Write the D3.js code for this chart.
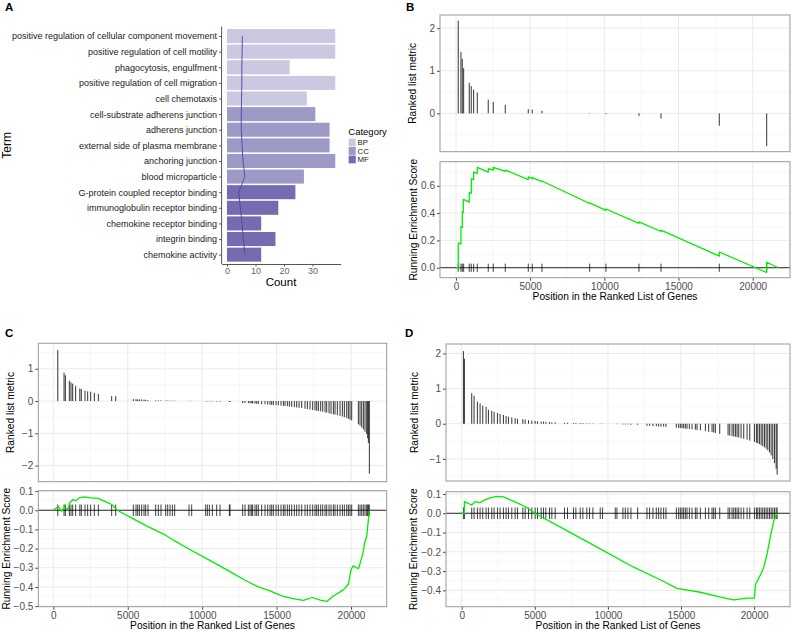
<!DOCTYPE html>
<html><head><meta charset="utf-8">
<script src="https://cdn.jsdelivr.net/npm/d3@7"></script>
<style>body{margin:0;background:#fff} text{font-family:"Liberation Sans",Arial,Helvetica,sans-serif}</style>
</head><body><svg id="c" width="796" height="631"></svg>
<script>
// ---------------- Panel A data ----------------
const termLabels = ["positive regulation of cellular component movement","positive regulation of cell motility","phagocytosis, engulfment","positive regulation of cell migration","cell chemotaxis","cell-substrate adherens junction","adherens junction","external side of plasma membrane","anchoring junction","blood microparticle","G-protein coupled receptor binding","immunoglobulin receptor binding","chemokine receptor binding","integrin binding","chemokine activity"];
const termCategory = ["BP","BP","BP","BP","BP","CC","CC","CC","CC","CC","MF","MF","MF","MF","MF"];
const termCount = [38,38,22,38,28,31,36,36,38,27,24,18,12,17,12];
const termLineValue = [5.4,5.3,5.2,5.2,5.1,5.0,5.0,5.3,5.6,6.3,4.1,4.7,5.3,5.7,6.3];
const categories = ["BP","CC","MF"];
const countTicks = [0,10,20,30];

// ---------------- Panel B data ----------------
const bHitPos = [155,337,425,519,897,1031,1193,1436,2177,2514,3323,4874,5143,5797,9012,10111,12336,13819,17749,20944];
const bMetric = [2.18,1.44,1.28,1.06,0.72,0.64,0.56,0.49,0.32,0.27,0.20,0.10,0.09,0.06,0.01,-0.02,-0.06,-0.12,-0.29,-0.77];
const bEsPos = [0,157,157,337,337,427,427,494,494,899,899,1034,1034,1191,1191,1438,1438,2180,2180,2517,2517,3326,3326,4876,4876,5146,5146,5797,5797,9010,9010,10112,10112,12336,12336,13819,13819,17751,17751,20942,20942,21730];
const bEsVal = [0,0,0.18,0.175,0.30,0.295,0.41,0.405,0.50,0.48,0.55,0.545,0.65,0.645,0.70,0.69,0.735,0.70,0.725,0.715,0.735,0.705,0.715,0.645,0.665,0.652,0.66,0.63,0.635,0.47,0.475,0.42,0.43,0.325,0.335,0.265,0.275,0.085,0.115,-0.035,0.04,0];

// ---------------- Panel C data ----------------
const cHitPos = [300,720,810,1075,1187,1299,1500,1780,1880,2130,2307,2509,2755,3024,3920,4189,5376,5555,5667,5779,5936,6093,6205,6362,6877,7056,7235,7549,7683,7840,7997,8154,9117,9296,10237,10349,10483,10685,10976,11200,11827,11872,12723,12880,13104,13216,13328,13395,13552,13664,13776,14000,14224,14403,14560,14672,14784,14963,15120,15299,15456,15568,15725,15859,16016,16195,16352,16509,16688,16912,17069,17248,17427,17584,17696,17808,17965,18099,18256,18368,18525,18659,18816,18928,19085,19264,19421,19555,19712,19824,19936,20048,20496,20608,20720,20832,20944,21056,21123,21168,21235];
const cMetric = [1.58,0.88,0.80,0.63,0.58,0.54,0.47,0.39,0.37,0.32,0.30,0.29,0.25,0.22,0.15,0.15,0.06,0.06,0.05,0.05,0.05,0.04,0.04,0.03,0.02,0.02,0.02,0.015,0.015,0.012,0.01,0.01,0.005,0.005,-0.01,-0.01,-0.01,-0.015,-0.015,-0.02,-0.03,-0.03,-0.06,-0.06,-0.065,-0.07,-0.07,-0.075,-0.08,-0.085,-0.09,-0.1,-0.1,-0.11,-0.11,-0.12,-0.12,-0.13,-0.13,-0.14,-0.15,-0.15,-0.16,-0.17,-0.18,-0.19,-0.2,-0.21,-0.22,-0.24,-0.25,-0.26,-0.28,-0.29,-0.30,-0.31,-0.32,-0.33,-0.35,-0.36,-0.38,-0.40,-0.41,-0.42,-0.44,-0.46,-0.48,-0.5,-0.52,-0.55,-0.58,-0.6,-0.72,-0.76,-0.82,-0.88,-0.95,-1.02,-1.15,-1.3,-2.25];
const cEsPos = [0,336,560,739,1000,1075,1300,1523,1747,2061,2509,3024,3500,3920,4300,5376,6362,7549,8154,9296,10483,11872,12880,13776,14560,15299,16016,16800,17400,18000,18400,18816,19488,19824,20003,20150,20496,20600,20787,20950,21056,21123,21168,21235];
const cEsVal = [0,0.02,-0.005,0.015,0.005,0.035,0.055,0.05,0.065,0.07,0.065,0.062,0.045,0.03,0.0,-0.045,-0.085,-0.13,-0.16,-0.21,-0.26,-0.32,-0.365,-0.40,-0.42,-0.445,-0.46,-0.47,-0.455,-0.47,-0.475,-0.447,-0.415,-0.386,-0.31,-0.29,-0.305,-0.28,-0.23,-0.16,-0.136,-0.085,-0.05,0];

// ---------------- Panel D data ----------------
const dHitPos = [114,183,685,845,1073,1256,1438,1667,1826,2055,2215,2443,2625,2854,3036,3196,3425,3653,3813,4178,4338,4566,4794,5023,5182,5434,5593,5753,6004,6164,6392,7032,7237,7648,7808,8105,8287,8561,8744,8972,9474,9634,10502,10616,11027,11187,11369,11575,12031,12671,12853,13082,13310,13470,13629,13812,13972,14680,14840,14954,15068,15182,15296,15410,15570,15753,15981,16095,16323,16666,16894,17123,17237,17351,17648,18218,18332,18492,18606,18721,18835,18949,19109,19291,19520,19702,20022,20159,20250,20364,20479,20593,20707,20821,20935,21050,21164,21278,21392,21506,21575];
const dMetric = [2.07,1.85,0.87,0.80,0.63,0.58,0.51,0.48,0.40,0.37,0.34,0.31,0.28,0.25,0.22,0.20,0.18,0.16,0.14,0.13,0.12,0.10,0.09,0.08,0.07,0.06,0.06,0.05,0.05,0.04,0.04,0.03,0.03,0.02,0.02,0.02,0.02,0.01,0.01,0.01,0.005,0.005,0.0,-0.01,-0.02,-0.02,-0.02,-0.03,-0.03,-0.06,-0.06,-0.07,-0.07,-0.08,-0.08,-0.08,-0.09,-0.11,-0.12,-0.12,-0.13,-0.13,-0.14,-0.14,-0.15,-0.16,-0.17,-0.18,-0.19,-0.21,-0.23,-0.24,-0.25,-0.26,-0.29,-0.33,-0.34,-0.35,-0.36,-0.37,-0.38,-0.39,-0.41,-0.43,-0.45,-0.48,-0.52,-0.54,-0.56,-0.58,-0.61,-0.64,-0.67,-0.71,-0.76,-0.82,-0.9,-1.0,-1.12,-1.28,-1.45];
const dEsPos = [0,183,183,685,913,1256,1598,1941,2397,2854,3310,3767,4452,5000,7191,9474,11757,13584,14726,16323,17694,18606,19520,20022,20091,20433,20662,20890,21118,21346,21575];
const dEsVal = [0,0,0.06,0.043,0.06,0.055,0.07,0.08,0.088,0.085,0.07,0.055,0.03,0.0,-0.09,-0.185,-0.28,-0.345,-0.39,-0.41,-0.435,-0.45,-0.44,-0.44,-0.37,-0.32,-0.28,-0.21,-0.12,-0.04,0];

const posTicks = [0,5000,10000,15000,20000];
const posMinor = [2500,7500,12500,17500,22500];

// ---------------- styles ----------------
const catColor = {BP:"#cbc9e2", CC:"#9e9ac8", MF:"#756bb1"};
const FONT = '"Liberation Sans",Arial,Helvetica,sans-serif';
const svg = d3.select("#c");
svg.append("rect").attr("width",796).attr("height",631).attr("fill","#fff");

function label(txt, x, y){
  svg.append("text").attr("x",x).attr("y",y).attr("font-size",11.5).attr("font-weight","bold").attr("fill","#000").text(txt);
}

// ---------------- Panel A ----------------
(function(){
  const g = svg.append("g");
  const x = d3.scaleLinear().domain([-1.9, 39.9]).range([221.6, 340.7]);
  const y = d3.scalePoint().domain(termLabels).range([26.7, 264]).padding(0.6);
  const bh = y.step()*0.9;
  g.selectAll("rect.bar").data(termLabels).join("rect")
    .attr("x", x(0)).attr("y", d=>y(d)-bh/2)
    .attr("width",(d,i)=>x(termCount[i])-x(0)).attr("height",bh)
    .attr("fill",(d,i)=>catColor[termCategory[i]]);
  const line = d3.line().x((d,i)=>x(termLineValue[i])).y(d=>y(d));
  g.append("path").datum(termLabels).attr("d",line).attr("fill","none").attr("stroke","#4f4399").attr("stroke-width",0.9);
  const ya = g.append("g").attr("transform",`translate(${x.range()[0]},0)`)
    .call(d3.axisLeft(y).tickSize(2.5).tickSizeOuter(0).tickPadding(2));
  ya.select(".domain").attr("stroke","#555").attr("d",`M0,26.7V264`);
  ya.selectAll(".tick line").attr("stroke","#555");
  ya.selectAll(".tick text").attr("font-size",9.0).attr("font-family",FONT).attr("fill","#1a1a1a");
  const xa = g.append("g").attr("transform",`translate(0,264)`)
    .call(d3.axisBottom(x).tickValues(countTicks).tickSize(2.5).tickSizeOuter(0).tickPadding(1.5));
  xa.select(".domain").attr("stroke","#555");
  xa.selectAll(".tick line").attr("stroke","#555");
  xa.selectAll(".tick text").attr("font-size",9).attr("font-family",FONT).attr("fill","#666");
  g.append("text").attr("x",281).attr("y",286).attr("text-anchor","middle").attr("font-size",11.5).text("Count");
  g.append("text").attr("transform","translate(7,145.3) rotate(-90)").attr("dy","0.35em").attr("text-anchor","middle").attr("font-size",12).text("Term");
  // legend
  g.append("text").attr("x",348.3).attr("y",135.3).attr("font-size",9.5).text("Category");
  categories.forEach((c,i)=>{
    const ky = 138.2 + i*8.5;
    g.append("rect").attr("x",348.3).attr("y",ky).attr("width",7.7).attr("height",8.5).attr("fill",catColor[c]).attr("stroke","#fff").attr("stroke-width",0.5);
    g.append("text").attr("x",357.5).attr("y",ky+4.25).attr("dy","0.36em").attr("font-size",7.8).attr("fill","#222").text(c);
  });
  label("A",5,11);
})();

// ---------------- GSEA panels ----------------
function gsea(cfg){
  const g = svg.append("g");
  const x = d3.scaleLinear().domain(cfg.xDom).range([cfg.x0, cfg.x1]);
  const yT = d3.scaleLinear().domain(cfg.tDom).range([cfg.tBot, cfg.tTop]);
  const yB = d3.scaleLinear().domain(cfg.bDom).range([cfg.bBot, cfg.bTop]);
  const fmt0 = d3.format("d"), fmt1 = d3.format(".1f");
  function panel(y, top, bot, major, minor, fmt, titleX, title, showX){
    const pg = g.append("g");
    const inX = v => v>=cfg.xDom[0] && v<=cfg.xDom[1];
    const inY = v => v>=y.domain()[0] && v<=y.domain()[1];
    pg.selectAll("line.mx").data(posMinor.filter(inX)).join("line").attr("x1",d=>x(d)).attr("x2",d=>x(d)).attr("y1",top).attr("y2",bot).attr("stroke","#f2f2f2").attr("stroke-width",0.6);
    pg.selectAll("line.my").data(minor.filter(inY)).join("line").attr("y1",d=>y(d)).attr("y2",d=>y(d)).attr("x1",cfg.x0).attr("x2",cfg.x1).attr("stroke","#f2f2f2").attr("stroke-width",0.6);
    pg.selectAll("line.Mx").data(posTicks).join("line").attr("x1",d=>x(d)).attr("x2",d=>x(d)).attr("y1",top).attr("y2",bot).attr("stroke","#e8e8e8").attr("stroke-width",0.9);
    pg.selectAll("line.My").data(major).join("line").attr("y1",d=>y(d)).attr("y2",d=>y(d)).attr("x1",cfg.x0).attr("x2",cfg.x1).attr("stroke","#e8e8e8").attr("stroke-width",0.9);
    const ya = g.append("g").attr("transform",`translate(${cfg.x0},0)`)
      .call(d3.axisLeft(y).tickValues(major).tickFormat(fmt).tickSize(3).tickSizeOuter(0).tickPadding(2));
    ya.select(".domain").remove();
    ya.selectAll(".tick line").attr("stroke","#444");
    ya.selectAll(".tick text").attr("font-size",10).attr("font-family",FONT).attr("fill","#4d4d4d");
    if(showX){
      const xa = g.append("g").attr("transform",`translate(0,${bot})`)
        .call(d3.axisBottom(x).tickValues(posTicks).tickFormat(fmt0).tickSize(3).tickSizeOuter(0).tickPadding(2));
      xa.select(".domain").remove();
      xa.selectAll(".tick line").attr("stroke","#444");
      xa.selectAll(".tick text").attr("font-size",10).attr("font-family",FONT).attr("fill","#4d4d4d");
      g.append("text").attr("x",(cfg.x0+cfg.x1)/2).attr("y",bot+22.5).attr("text-anchor","middle").attr("font-size",10.2).text("Position in the Ranked List of Genes");
    }
    g.append("text").attr("transform",`translate(${titleX},${(top+bot)/2}) rotate(-90)`).attr("dy","0.35em").attr("text-anchor","middle").attr("font-size",10.2).text(title);
    return pg;
  }
  const tp = panel(yT, cfg.tTop, cfg.tBot, cfg.tMajor, cfg.tMinor, fmt0, cfg.tTitleX, "Ranked list metric", false);
  const bp = panel(yB, cfg.bTop, cfg.bBot, cfg.bMajor, cfg.bMinor, fmt1, cfg.bTitleX, "Running Enrichment Score", true);
  tp.selectAll("line.m").data(cfg.hits).join("line")
    .attr("x1",d=>x(d)).attr("x2",d=>x(d)).attr("y1",yT(0)).attr("y2",(d,i)=>yT(cfg.metric[i]))
    .attr("stroke","#000").attr("stroke-width",1).attr("stroke-opacity",0.8);
  bp.append("line").attr("x1",cfg.x0).attr("x2",cfg.x1).attr("y1",yB(0)).attr("y2",yB(0)).attr("stroke","#111").attr("stroke-width",0.9);
  bp.selectAll("line.r").data(cfg.hits).join("line")
    .attr("x1",d=>x(d)).attr("x2",d=>x(d)).attr("y1",yB(-0.03)).attr("y2",yB(0.03))
    .attr("stroke","#000").attr("stroke-width",1).attr("stroke-opacity",0.75);
  const es = d3.line().x((d,i)=>x(d)).y((d,i)=>yB(cfg.esVal[i]));
  bp.append("path").datum(cfg.esPos).attr("d",es).attr("fill","none").attr("stroke","#00ee00").attr("stroke-width",1.3).attr("stroke-linejoin","round");
  [[cfg.tTop,cfg.tBot],[cfg.bTop,cfg.bBot]].forEach(([t,b])=>{
    g.append("rect").attr("x",cfg.x0).attr("y",t).attr("width",cfg.x1-cfg.x0).attr("height",b-t).attr("fill","none").attr("stroke","#999").attr("stroke-width",1);
  });
  label(cfg.label, cfg.lx, cfg.ly);
}

gsea({label:"B", lx:406, ly:11,
  x0:440, x1:790, xDom:[-1075,22515],
  tTop:15, tBot:151.7, tDom:[-0.90,2.31], tMajor:[0,1,2], tMinor:[-0.5,0.5,1.5], tTitleX:412.5,
  bTop:161.7, bBot:277.7, bDom:[-0.073,0.776], bMajor:[0,0.2,0.4,0.6], bMinor:[0.1,0.3,0.5,0.7], bTitleX:413,
  hits:bHitPos, metric:bMetric, esPos:bEsPos, esVal:bEsVal});

gsea({label:"C", lx:5, ly:337,
  x0:38.3, x1:386.7, xDom:[-1010,22400],
  tTop:343.3, tBot:481.7, tDom:[-2.5,1.79], tMajor:[-2,-1,0,1], tMinor:[-1.5,-0.5,0.5,1.5], tTitleX:10.5,
  bTop:490.7, bBot:606.7, bDom:[-0.503,0.102], bMajor:[0.1,0,-0.1,-0.2,-0.3,-0.4,-0.5], bMinor:[0.05,-0.05,-0.15,-0.25,-0.35,-0.45], bTitleX:6,
  hits:cHitPos, metric:cMetric, esPos:cEsPos, esVal:cEsVal});

gsea({label:"D", lx:405, ly:337,
  x0:446, x1:790, xDom:[-1075,22455],
  tTop:344, tBot:481, tDom:[-1.63,2.27], tMajor:[-1,0,1,2], tMinor:[-1.5,-0.5,0.5,1.5], tTitleX:414,
  bTop:491.7, bBot:606.7, bDom:[-0.485,0.112], bMajor:[0.1,0,-0.1,-0.2,-0.3,-0.4], bMinor:[0.05,-0.05,-0.15,-0.25,-0.35,-0.45], bTitleX:413,
  hits:dHitPos, metric:dMetric, esPos:dEsPos, esVal:dEsVal});
</script></body></html>
